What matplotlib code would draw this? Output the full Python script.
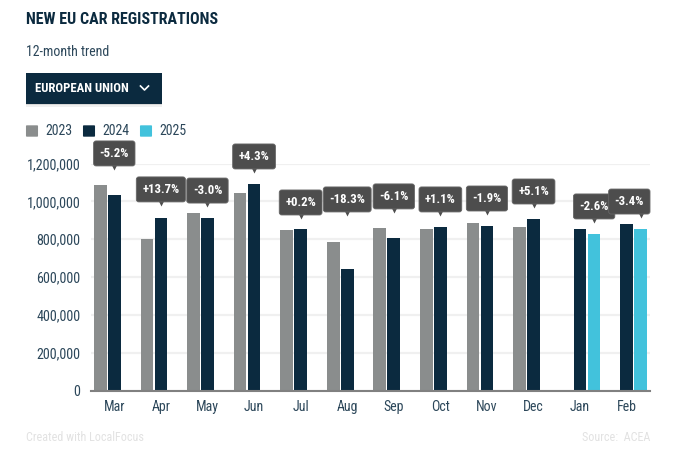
import matplotlib
matplotlib.use('Agg')
import matplotlib.pyplot as plt
from matplotlib.patches import FancyBboxPatch, Rectangle
from matplotlib.lines import Line2D
from matplotlib.transforms import IdentityTransform
from matplotlib import font_manager as fm

W, H = 685, 461

months = ['Mar', 'Apr', 'May', 'Jun', 'Jul', 'Aug', 'Sep', 'Oct', 'Nov', 'Dec', 'Jan', 'Feb']
y2023 = [1088000, 803000, 940000, 1046000, 850000, 787000, 861000, 855000, 887000, 866000, None, None]
y2024 = [1035000, 914000, 914000, 1094000, 852000, 644000, 808000, 866000, 871000, 908000, 855000, 882000]
y2025 = [None, None, None, None, None, None, None, None, None, None, 829000, 855000]
changes = ['-5.2%', '+13.7%', '-3.0%', '+4.3%', '+0.2%', '-18.3%', '-6.1%', '+1.1%', '-1.9%', '+5.1%', '-2.6%', '-3.4%']
callout_tips = [1166000, 976000, 970000, 1150000, 907000, 923000, 939000, 923000, 928000, 965000, 886000, 912000]
yticks = [0, 200000, 400000, 600000, 800000, 1000000, 1200000]

GREY = '#8a8d8d'
NAVY = '#0b2a3f'
CYAN = '#42c2dc'
TXT = '#2c475a'

installed = {f.name for f in fm.fontManager.ttflist}
if 'Roboto Condensed' in installed:
    FONT = 'Roboto Condensed'
elif 'Liberation Sans Narrow' in installed:
    FONT = 'Liberation Sans Narrow'
else:
    FONT = 'Roboto'
plt.rcParams['font.family'] = [FONT, 'DejaVu Sans']


def fx(x):
    return x / W


def fy(y):
    return 1 - y / H


fig = plt.figure(figsize=(W / 100, H / 100), dpi=100)
ax = fig.add_axes([fx(91), fy(390.7), fx(650) - fx(91), (390.7 - 163.5) / H])
ax.set_xlim(-0.5, 11.5)
ax.set_ylim(0, 1200000)

offset = 14 / 46.6
bar_w = 12.6 / 46.6
for i in range(len(months)):
    if y2023[i] is not None:
        ax.bar(i - offset, y2023[i], bar_w, color=GREY, zorder=3)
    ax.bar(i, y2024[i], bar_w, color=NAVY, zorder=3)
    if y2025[i] is not None:
        ax.bar(i + offset, y2025[i], bar_w, color=CYAN, zorder=3)

ax.set_yticks(yticks)
ax.set_yticklabels(['{:,}'.format(v) for v in yticks])
ax.set_xticks(range(len(months)))
ax.set_xticklabels(months)
ax.tick_params(axis='y', length=0, labelsize=10.2, labelcolor=TXT, pad=7.5)
ax.tick_params(axis='x', length=0, labelsize=10, labelcolor=TXT, pad=7)
ax.grid(axis='y', color='#f0f0f0', lw=1.6, zorder=0)
for s in ['top', 'right', 'left']:
    ax.spines[s].set_visible(False)
ax.spines['bottom'].set_color('#808080')
ax.spines['bottom'].set_linewidth(1.5)
ax.spines['bottom'].set_zorder(4)

# callouts sit over the newest bar of each month, box sized from the text in pixels
# a box that would pass the right edge of the plot is pushed back, its pointer stays
renderer = fig.canvas.get_renderer()
right_edge = ax.transData.transform((11.5, 0))[0]
for i, label in enumerate(changes):
    x = i + offset if y2025[i] is not None else i
    tip = callout_tips[i]
    txt = ax.annotate(label, xy=(x, tip), xytext=(0, 16.5), textcoords='offset pixels',
                      ha='center', va='center', color='white', fontsize=9.2, fontweight='bold',
                      annotation_clip=False, zorder=7)
    w = txt.get_window_extent(renderer).width + 12
    px, py = ax.transData.transform((x, tip))
    shift = min(0, right_edge - (px + w / 2))
    txt.xyann = (shift, 16.5)
    box = FancyBboxPatch((px + shift - w / 2 + 2, py + 6), w - 4, 21, boxstyle='round,pad=2,rounding_size=2.5',
                         transform=IdentityTransform(), fc='#4d4d4d', ec='#666666', lw=0.6,
                         clip_on=False, zorder=6)
    ax.add_artist(box)
    ax.plot([x], [tip + 20000], marker='v', ms=5.5, color='#4d4d4d', mec='none', clip_on=False, zorder=5)

# header
fig.text(fx(26), fy(20), 'NEW EU CAR REGISTRATIONS', fontsize=11.5, fontweight='bold', color=NAVY, va='center')
fig.text(fx(26), fy(51.5), '12-month trend', fontsize=10, color=TXT, va='center')

for off, a in [(3, 0.06), (1.5, 0.1)]:
    fig.patches.append(Rectangle((fx(26), fy(104 + off)), fx(136), (31 + off) / H, transform=fig.transFigure,
                                 fc='black', alpha=a, ec='none'))
fig.patches.append(Rectangle((fx(26), fy(104)), fx(136), 31 / H, transform=fig.transFigure, fc=NAVY, ec='none'))
fig.text(fx(35), fy(88), 'EUROPEAN UNION', fontsize=9.2, fontweight='bold', color='white', va='center')
fig.add_artist(Line2D([fx(140.5), fx(144.5), fx(148.5)], [fy(86), fy(90), fy(86)], color='white', lw=1.2))

# legend
for sx, col, label in [(26, GREY, '2023'), (83, NAVY, '2024'), (140, CYAN, '2025')]:
    fig.patches.append(FancyBboxPatch((fx(sx + 1), fy(136)), fx(10), 10 / H, transform=fig.transFigure,
                                      boxstyle='round,pad=0.0015', fc=col, ec='none'))
    fig.text(fx(sx + 19), fy(130.5), label, fontsize=10, color=TXT, va='center')

# footer
fig.text(fx(26), fy(437), 'Created with LocalFocus', fontsize=8.7, color='#e2e2e2', va='center')
fig.text(fx(650), fy(437), 'Source:  ACEA', fontsize=8.7, color='#e2e2e2', va='center', ha='right')

fig.savefig('out.png', dpi=100)
